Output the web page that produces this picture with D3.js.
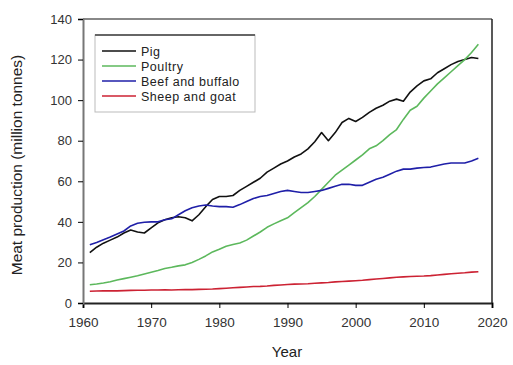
<!DOCTYPE html>
<html><head><meta charset="utf-8">
<script src="https://cdn.jsdelivr.net/npm/d3@7"></script>
<style>body{margin:0;background:#fff}svg{display:block}text{font-family:"Liberation Sans",Arial,sans-serif;fill:#222}</style>
</head><body><svg id="c" width="513" height="365"></svg>
<script>
const years = d3.range(1961, 2019);
const pig = [24.8,27.5,29.5,31.0,32.5,34.5,36.0,35.0,34.5,37.0,39.5,41.0,42.0,42.5,42.0,40.5,43.5,47.5,51.0,52.5,52.5,53.0,55.5,57.5,59.5,61.5,64.5,66.5,68.5,70.0,72.0,73.5,76.0,79.5,84.0,80.0,84.0,89.0,91.0,89.5,91.5,94.0,96.0,97.5,99.5,100.5,99.5,104.0,107.0,109.5,110.5,113.5,115.5,117.5,119.0,120.0,121.0,120.5];
const poultry = [9.0,9.4,9.9,10.5,11.3,12.0,12.7,13.4,14.3,15.2,16.0,17.0,17.6,18.3,18.8,20.0,21.5,23.2,25.2,26.5,28.0,28.8,29.6,31.0,33.0,35.0,37.3,39.0,40.5,42.0,44.5,47.0,49.5,52.5,56.0,59.5,63.0,65.5,68.0,70.5,73.0,76.0,77.5,80.0,83.0,85.5,90.5,95.0,97.0,101.0,104.5,108.0,111.0,114.0,117.0,120.0,123.5,127.5];
const beef = [28.7,29.8,31.2,32.5,34.0,35.5,38.0,39.3,39.8,40.0,40.0,41.0,41.5,43.5,45.5,47.0,47.8,48.3,47.8,47.5,47.5,47.2,48.5,50.0,51.5,52.5,53.0,54.0,55.0,55.5,55.0,54.5,54.5,55.0,55.5,56.5,57.5,58.5,58.5,58.0,58.0,59.5,61.0,62.0,63.5,65.0,66.0,66.0,66.5,66.8,67.0,67.8,68.5,69.0,69.0,69.0,70.0,71.3];
const sheep = [5.8,5.9,6.0,6.0,6.0,6.1,6.2,6.3,6.3,6.4,6.4,6.5,6.4,6.5,6.6,6.6,6.7,6.8,6.9,7.1,7.3,7.5,7.7,7.9,8.1,8.2,8.4,8.7,8.9,9.1,9.3,9.4,9.5,9.7,9.9,10.1,10.4,10.6,10.8,11.0,11.2,11.5,11.8,12.1,12.4,12.7,12.9,13.1,13.2,13.3,13.5,13.8,14.1,14.4,14.7,14.9,15.2,15.4];
const seriesNames = ["Pig","Poultry","Beef and buffalo","Sheep and goat"];
const seriesColors = ["#111111","#5cb85c","#1f1fa8","#cc2233"];
const xTicks = [1960,1970,1980,1990,2000,2010,2020];
const yTicks = [0,20,40,60,80,100,120,140];

const svg = d3.select("#c");
const L=83, R=492, T=19, B=303;
const x = d3.scaleLinear().domain([1960,2020]).range([L,R]);
const y = d3.scaleLinear().domain([0,140]).range([B,T]);

// frame
svg.append("line").attr("x1",L).attr("x2",R).attr("y1",T).attr("y2",T).attr("stroke","#888").attr("stroke-width",2);
svg.append("line").attr("x1",R).attr("x2",R).attr("y1",T).attr("y2",B).attr("stroke","#222").attr("stroke-width",1.5);

const series = [pig,poultry,beef,sheep];
const line = d3.line().x((d,i)=>x(years[i])).y(d=>y(d));
series.forEach((s,k)=>{
  svg.append("path").datum(s).attr("d",line).attr("fill","none")
    .attr("stroke",seriesColors[k]).attr("stroke-width",1.6).attr("stroke-linejoin","round");
});

// axes
const gx = svg.append("g").attr("transform",`translate(0,${B})`)
  .call(d3.axisBottom(x).tickValues(xTicks).tickFormat(d3.format("d")).tickSize(5).tickPadding(9));
gx.select(".domain").attr("stroke","#222").attr("stroke-width",2);
gx.selectAll("text").attr("font-size",13.5).style("fill","#333");
const gy = svg.append("g").attr("transform",`translate(${L},0)`)
  .call(d3.axisLeft(y).tickValues(yTicks).tickSize(5).tickPadding(6));
gy.select(".domain").attr("stroke","#777").attr("stroke-width",2);
gy.selectAll("text").attr("font-size",13).style("fill","#333");

svg.append("text").attr("x",287).attr("y",357).attr("text-anchor","middle").attr("font-size",15).text("Year");
svg.append("text").attr("transform","translate(22,165) rotate(-90)").attr("text-anchor","middle").attr("font-size",15.5).text("Meat production (million tonnes)");

// legend
const lg = svg.append("g");
lg.append("rect").attr("x",95).attr("y",35).attr("width",160).attr("height",77).attr("fill","#fff").attr("stroke","#bbb").attr("stroke-width",1);
lg.append("line").attr("x1",95).attr("x2",255).attr("y1",35).attr("y2",35).attr("stroke","#666").attr("stroke-width",2);
seriesNames.forEach((n,k)=>{
  const yy = 51 + k*15;
  lg.append("line").attr("x1",102).attr("x2",136).attr("y1",yy).attr("y2",yy).attr("stroke",seriesColors[k]).attr("stroke-width",1.6);
  lg.append("text").attr("x",141).attr("y",yy+4.5).attr("font-size",12.5).attr("letter-spacing",0.5).text(n);
});
</script></body></html>
